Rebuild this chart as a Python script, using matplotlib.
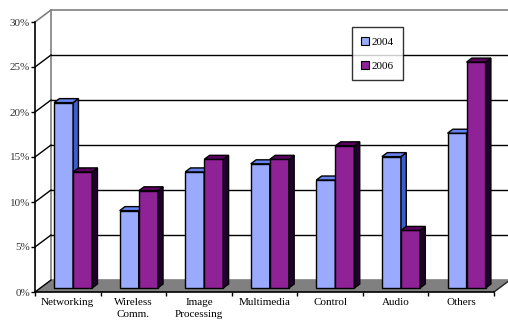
import numpy as np
import matplotlib.pyplot as plt
from matplotlib.patches import Polygon
from matplotlib.ticker import FuncFormatter, FixedLocator

# --- Data ---
categories = ['Networking', 'Wireless\nComm.', 'Image\nProcessing', 'Multimedia',
              'Control', 'Audio', 'Others']
share_2004 = [20.6, 8.6, 12.9, 13.8, 12.0, 14.6, 17.2]
share_2006 = [12.9, 10.8, 14.3, 14.3, 15.8, 6.4, 25.1]
years = ['2004', '2006']

# --- 3D look (depth offset of walls, in data units) ---
DX, DY = 0.244, 1.33
BDX, BDY = DX / 3, DY / 3      # bar depth
FX, FY = DX / 3, DY / 3        # bar front plane offset
W = 0.29

colors = {
    '2004': ('#99aaff', '#3d5ec8', '#6584f0'),   # front, side, top
    '2006': ('#8e2296', '#210030', '#5c0062'),
}

plt.rcParams['font.family'] = ['Liberation Serif', 'DejaVu Serif']

fig = plt.figure(figsize=(5.08, 3.22), dpi=100)
ax = fig.add_axes([35 / 508, 30 / 322, 459 / 508, 270 / 322])
ax.set_xlim(0, 7)
ax.set_ylim(0, 30)
ax.patch.set_visible(False)

n = len(categories)

# back wall
ax.add_patch(Polygon([(DX, DY), (n + DX, DY), (n + DX, 30 + DY), (DX, 30 + DY)],
                     closed=True, facecolor='white', edgecolor='#808080',
                     lw=1.2, zorder=0, clip_on=False))
for v in range(5, 30, 5):
    ax.plot([DX, n + DX], [v + DY, v + DY], color='black', lw=1.0, zorder=1, clip_on=False)
    ax.plot([0, DX], [v, v + DY], color='black', lw=1.0, zorder=1, clip_on=False)
ax.plot([0, DX], [30, 30 + DY], color='#808080', lw=1.2, zorder=1, clip_on=False)

# floor
ax.add_patch(Polygon([(0, 0), (n, 0), (n + DX, DY), (DX, DY)], closed=True,
                     facecolor='#808080', edgecolor='none', zorder=1, clip_on=False))
ax.plot([0, DX], [0, DY], color='black', lw=1.0, zorder=1, clip_on=False)
ax.plot([n, n + DX], [0, DY], color='#202020', lw=1.0, zorder=1, clip_on=False)

# bars
x = np.arange(n)
z = 3
for i in range(n):
    for k, (yr, vals) in enumerate(zip(years, [share_2004, share_2006])):
        front, side, top = colors[yr]
        left = x[i] + 0.5 - W + k * W + FX
        v = vals[i]
        ax.bar(left, v, width=W, bottom=FY, align='edge', color=front,
               edgecolor='black', lw=1.0, zorder=z,
               label=yr if i == 0 else None)
        r = left + W
        ax.add_patch(Polygon([(r, FY), (r + BDX, FY + BDY), (r + BDX, v + FY + BDY),
                              (r, v + FY)], closed=True, facecolor=side,
                             edgecolor='black', lw=1.0, zorder=z))
        ax.add_patch(Polygon([(left, v + FY), (r, v + FY), (r + BDX, v + FY + BDY),
                              (left + BDX, v + FY + BDY)], closed=True,
                             facecolor=top, edgecolor='black', lw=1.0, zorder=z))
        z += 1

# axes
for s in ['top', 'right']:
    ax.spines[s].set_visible(False)
ax.spines['left'].set_linewidth(1.2)
ax.spines['bottom'].set_linewidth(1.2)
ax.spines['left'].set_zorder(50)
ax.spines['bottom'].set_zorder(50)

ax.yaxis.set_major_locator(FixedLocator(range(0, 31, 5)))
ax.yaxis.set_major_formatter(FuncFormatter(lambda v, p: f'{v:.0f}%'))
ax.tick_params(axis='y', length=3, width=1.0, pad=0.5, labelsize=8, colors='black')
ax.tick_params(axis='y', labelcolor='#333333')

ax.set_xticks(x + 0.5)
ax.set_xticklabels(categories, linespacing=1.5)
ax.set_xticks(np.arange(n + 1), minor=True)
ax.tick_params(axis='x', which='major', length=0, pad=4, labelsize=8)
ax.tick_params(axis='x', which='minor', length=3, width=1.0)
for t in ax.get_xticklabels():
    t.set_verticalalignment('top')

leg = ax.legend(loc='upper left', bbox_to_anchor=(0.69, 0.98), fontsize=8,
                frameon=True, fancybox=False, edgecolor='black',
                handlelength=0.7, handleheight=0.7, handletextpad=0.2,
                labelspacing=1.3, borderpad=0.85, borderaxespad=0)
leg.get_frame().set_linewidth(1.0)
leg.set_zorder(100)
for h in leg.legend_handles:
    h.set_linewidth(0.8)

fig.savefig('out.png', dpi=100)
